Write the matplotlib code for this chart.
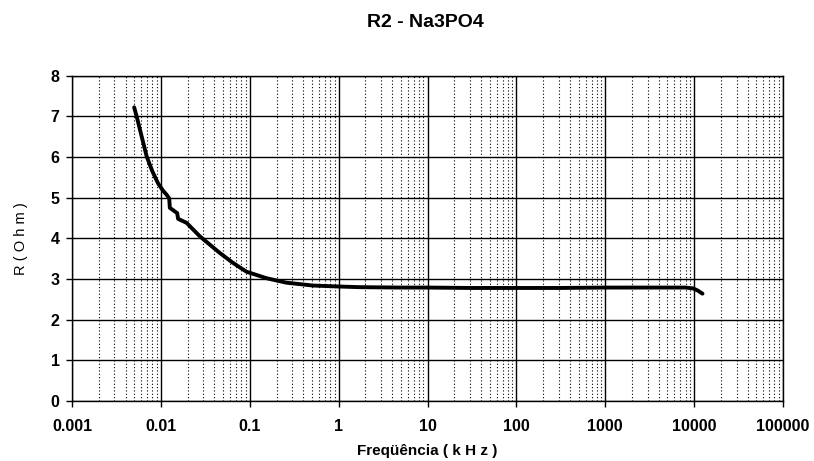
import numpy as np
import matplotlib
matplotlib.use("Agg")
import matplotlib.pyplot as plt
from matplotlib.ticker import LogLocator, FixedLocator, NullFormatter

plt.rcParams['font.family'] = ['Liberation Sans', 'DejaVu Sans']

# Measured resistance vs frequency
freq_khz = [0.0050, 0.00533, 0.0060, 0.0069, 0.0080, 0.0093, 0.0105, 0.0116,
            0.0124, 0.0126, 0.01435, 0.01524, 0.0156, 0.01945, 0.0274, 0.0460,
            0.0644, 0.0918, 0.154, 0.258, 0.511, 1.03, 1.72, 5.0, 10, 30,
            100, 300, 1000, 3000, 8000, 9700, 10900, 12400]
resistance = [7.22, 7.00, 6.55, 6.02, 5.65, 5.35, 5.18, 5.07,
              4.98, 4.75, 4.66, 4.62, 4.48, 4.38, 4.05, 3.64,
              3.40, 3.18, 3.02, 2.91, 2.84, 2.815, 2.80, 2.79, 2.79, 2.78,
              2.78, 2.78, 2.79, 2.79, 2.79, 2.77, 2.72, 2.64]

x_ticks = [0.001, 0.01, 0.1, 1, 10, 100, 1000, 10000, 100000]
x_tick_labels = ['0.001', '0.01', '0.1', '1', '10', '100', '1000', '10000', '100000']
y_ticks = [0, 1, 2, 3, 4, 5, 6, 7, 8]

fig = plt.figure(figsize=(8.14, 4.61), dpi=100)
ax = fig.add_axes([0.0885, 0.130, 0.8735, 0.706])

ax.set_xscale('log')
ax.set_xlim(0.001, 100000)
ax.set_ylim(0, 8)

ax.xaxis.set_major_locator(FixedLocator(x_ticks))
ax.set_xticklabels(x_tick_labels)
ax.xaxis.set_minor_locator(LogLocator(base=10, subs=np.arange(2, 10), numticks=100))
ax.xaxis.set_minor_formatter(NullFormatter())
ax.set_yticks(y_ticks)

ax.grid(which='major', axis='both', color='black', linewidth=1.0, linestyle='-')
ax.grid(which='minor', axis='x', color='black', linewidth=0.8, linestyle=(0, (1, 2)))
ax.set_axisbelow(True)

ax.plot(freq_khz, resistance, color='black', linewidth=2.8, solid_capstyle='round',
        solid_joinstyle='round', zorder=3)

for s in ['left', 'bottom', 'top', 'right']:
    ax.spines[s].set_linewidth(1.0)
    ax.spines[s].set_color('black')

ax.tick_params(axis='both', which='major', direction='out', length=4, width=1,
               labelsize=11.5, colors='black')
ax.tick_params(axis='x', which='minor', length=0)
for lbl in ax.get_xticklabels() + ax.get_yticklabels():
    lbl.set_fontweight('bold')
ax.tick_params(axis='x', pad=9)
ax.tick_params(axis='y', pad=5)

ax.set_xlabel('Freqüência ( k H z )', fontsize=11, fontweight='bold', labelpad=7)
ax.set_ylabel('R ( O h m )', fontsize=10.5, labelpad=16)
fig.text(0.523, 0.951, 'R2 - Na3PO4', ha='center', va='center', fontsize=14,
         fontweight='bold')

fig.savefig('out.png', dpi=100)
